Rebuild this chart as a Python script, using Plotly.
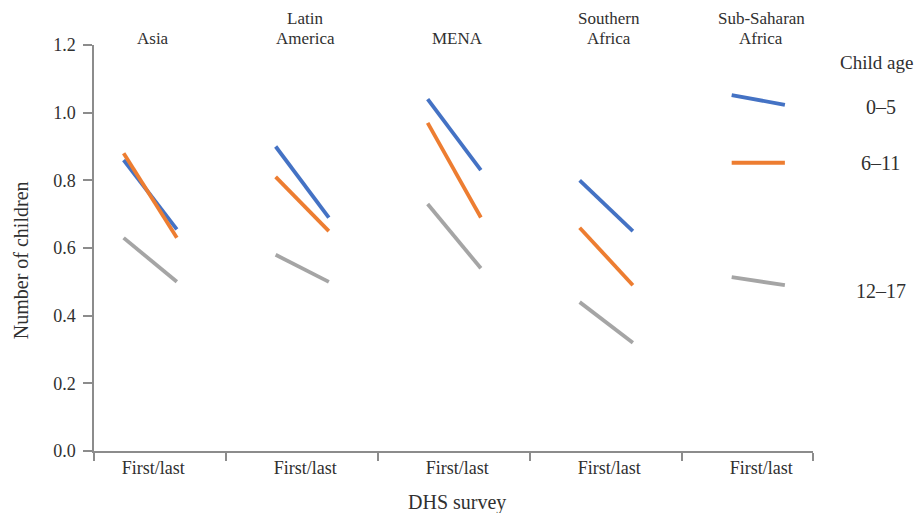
import plotly.graph_objects as go

regions = ["Asia", "Latin<br>America", "MENA", "Southern<br>Africa", "Sub-Saharan<br>Africa"]
surveys = ["First", "Last"]
age_groups = ["0\u20135", "6\u201311", "12\u201317"]

# values: [first, last] per region
age_0_5 = [[0.86, 0.655], [0.90, 0.69], [1.04, 0.83], [0.80, 0.65], [1.052, 1.023]]
age_6_11 = [[0.88, 0.63], [0.81, 0.65], [0.97, 0.69], [0.66, 0.49], [0.852, 0.852]]
age_12_17 = [[0.63, 0.50], [0.58, 0.50], [0.73, 0.54], [0.44, 0.32], [0.514, 0.49]]

colors = ["#4472C4", "#ED7D31", "#A5A5A5"]
series = [age_0_5, age_6_11, age_12_17]

offsets = {"First": -0.175, "Last": 0.175}

fig = go.Figure()
for name, vals, col in zip(age_groups, series, colors):
    xs, ys = [], []
    for i, pair in enumerate(vals):
        for s, v in zip(surveys, pair):
            xs.append(i + offsets[s])
            ys.append(v)
        xs.append(None)
        ys.append(None)
    fig.add_trace(go.Scatter(x=xs, y=ys, mode="lines", name=name,
                             line=dict(color=col, width=3.8), showlegend=False))

font_family = "Liberation Serif, Times New Roman, serif"
txt = "#303030"
axis_col = "#8c8c8c"

x_min, x_max = -0.37, 4.36
dividers = [x_min, 0.5, 1.5, 2.5, 3.5, x_max]

fig.update_layout(
    width=915, height=505,
    margin=dict(l=86, r=110, t=37, b=62),
    paper_bgcolor="white", plot_bgcolor="white",
    font=dict(family=font_family, size=18, color=txt),
    xaxis=dict(
        range=[x_min, x_max], showgrid=False, zeroline=False,
        showline=True, linecolor=axis_col, linewidth=1.5,
        tickvals=[i + 0.02 for i in range(len(regions))],
        ticktext=["First/last"] * len(regions),
        ticks="", tickfont=dict(size=18, color=txt),
        minor=dict(tickvals=dividers, ticks="outside", ticklen=8,
                   tickcolor=axis_col, tickwidth=1.5, showgrid=False),
    ),
    yaxis=dict(
        range=[0, 1.2], showgrid=False, zeroline=False,
        showline=True, linecolor=axis_col, linewidth=1.5,
        tickvals=[0, 0.2, 0.4, 0.6, 0.8, 1.0, 1.2], tickformat=".1f",
        ticks="outside", ticklen=9, tickcolor=axis_col, tickwidth=1.5,
        tickfont=dict(size=18, color=txt), ticklabelstandoff=4,
    ),
)

# axis titles
fig.add_annotation(x=0.505, y=-0.128, xref="paper", yref="paper", text="DHS survey",
                   showarrow=False, xanchor="center", yanchor="middle",
                   font=dict(size=20, color=txt))
fig.add_annotation(x=-0.1015, y=0.47, xref="paper", yref="paper", text="Number of children",
                   showarrow=False, textangle=-90, xanchor="center", yanchor="middle",
                   font=dict(size=20, color=txt))

# region titles (one annotation per line, tight line spacing)
for i, r in enumerate(regions):
    lines = r.split("<br>")
    for k, line in enumerate(reversed(lines)):
        fig.add_annotation(x=i + 0.02, y=1.2, xref="x", yref="y", text=line,
                           showarrow=False, yanchor="middle", yshift=7 + 20 * k,
                           borderpad=0, font=dict(size=17, color=txt))

# direct labels
fig.add_annotation(x=1.089, y=1.147, xref="paper", yref="y", text="Child age",
                   showarrow=False, xanchor="center", font=dict(size=19, color=txt))
for name, ly in zip(age_groups, [1.017, 0.851, 0.473]):
    fig.add_annotation(x=1.094, y=ly, xref="paper", yref="y", text=name,
                       showarrow=False, xanchor="center", font=dict(size=20, color=txt))

fig.write_html("out.html")
